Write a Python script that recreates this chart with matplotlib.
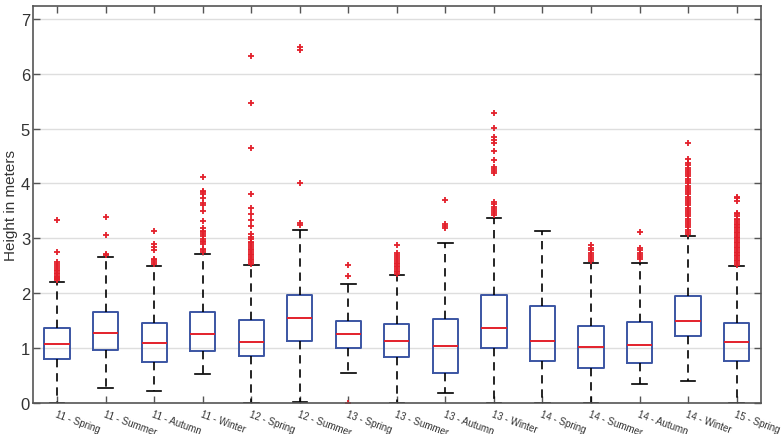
import numpy as np
import matplotlib
matplotlib.use('Agg')
import matplotlib.pyplot as plt

plt.rcParams['font.family'] = ['Liberation Sans', 'DejaVu Sans']

# seasons on the x axis
labels = ['11 - Spring', '11 - Summer', '11 - Autumn', '11 - Winter',
          '12 - Spring', '12 - Summer', '13 - Spring', '13 - Summer',
          '13 - Autumn', '13 - Winter', '14 - Spring', '14 - Summer',
          '14 - Autumn', '14 - Winter', '15 - Spring']

# box statistics (meters)
q1 = [0.81, 0.97, 0.74, 0.94, 0.86, 1.13, 1.00, 0.83, 0.55, 1.00, 0.76, 0.63, 0.72, 1.22, 0.77]
med = [1.08, 1.28, 1.10, 1.26, 1.12, 1.55, 1.25, 1.13, 1.04, 1.37, 1.13, 1.02, 1.05, 1.49, 1.11]
q3 = [1.37, 1.66, 1.45, 1.65, 1.52, 1.97, 1.50, 1.44, 1.53, 1.97, 1.77, 1.40, 1.48, 1.95, 1.46]
whislo = [0.00, 0.27, 0.21, 0.52, 0.00, 0.01, 0.55, 0.00, 0.18, 0.00, 0.00, 0.00, 0.35, 0.40, 0.00]
whishi = [2.20, 2.66, 2.49, 2.71, 2.51, 3.16, 2.17, 2.33, 2.91, 3.38, 3.14, 2.55, 2.56, 3.05, 2.49]

# outliers
fliers = [
    [2.24, 2.26, 2.28, 2.30, 2.32, 2.35, 2.37, 2.40, 2.43, 2.46, 2.50, 2.53, 2.57, 2.76, 3.33],
    [2.70, 2.72, 3.07, 3.39],
    [2.54, 2.57, 2.60, 2.63, 2.79, 2.84, 2.90, 3.13],
    [2.76, 2.78, 2.81, 2.90, 2.93, 2.96, 2.99, 3.05, 3.08, 3.11, 3.14, 3.18, 3.32,
     3.50, 3.61, 3.65, 3.74, 3.81, 3.84, 3.87, 4.12],
    [2.54, 2.57, 2.60, 2.63, 2.66, 2.69, 2.72, 2.75, 2.78, 2.81, 2.84, 2.88, 2.91, 2.94,
     2.99, 3.03, 3.08, 3.22, 3.33, 3.44, 3.55, 3.80, 4.65, 5.46, 6.33],
    [3.25, 3.28, 4.01, 6.44, 6.48],
    [0.00, 2.31, 2.51],
    [2.35, 2.38, 2.41, 2.44, 2.47, 2.50, 2.53, 2.56, 2.59, 2.62, 2.66, 2.70, 2.74, 2.87],
    [3.18, 3.22, 3.27, 3.70],
    [3.42, 3.46, 3.50, 3.54, 3.58, 3.62, 3.67, 4.20, 4.23, 4.26, 4.30, 4.42, 4.59,
     4.74, 4.79, 4.84, 5.02, 5.28],
    [],
    [2.58, 2.62, 2.66, 2.70, 2.74, 2.78, 2.82, 2.87],
    [2.63, 2.66, 2.70, 2.74, 2.78, 2.82, 3.12],
    [3.08, 3.12, 3.16, 3.20, 3.24, 3.28, 3.32, 3.36, 3.40, 3.44, 3.48, 3.52, 3.56, 3.60,
     3.64, 3.68, 3.72, 3.76, 3.80, 3.84, 3.88, 3.92, 3.96, 4.00, 4.04, 4.09, 4.13, 4.17,
     4.21, 4.25, 4.29, 4.33, 4.37, 4.45, 4.73],
    [2.52, 2.55, 2.58, 2.61, 2.64, 2.67, 2.70, 2.73, 2.76, 2.79, 2.82, 2.85, 2.88, 2.91,
     2.94, 2.97, 3.00, 3.03, 3.06, 3.09, 3.12, 3.15, 3.18, 3.21, 3.24, 3.27, 3.30, 3.33,
     3.36, 3.40, 3.44, 3.47, 3.69, 3.73, 3.76],
]

BLUE = '#3b55a3'
RED = '#e3202b'

stats = []
for i in range(len(labels)):
    stats.append(dict(q1=q1[i], med=med[i], q3=q3[i], whislo=whislo[i],
                      whishi=whishi[i], fliers=fliers[i], label=labels[i]))

fig = plt.figure(figsize=(7.82, 4.35), dpi=100)
ax = fig.add_axes([0.042, 0.0713, 0.931, 0.9133])

positions = np.arange(1, len(labels) + 1)
ax.bxp(stats, positions=positions, widths=0.52, showfliers=True,
       boxprops=dict(color=BLUE, linewidth=1.4),
       medianprops=dict(color=RED, linewidth=1.4),
       whiskerprops=dict(color='black', linewidth=1.2, linestyle=(0, (5, 3.5))),
       capprops=dict(color='black', linewidth=1.2),
       flierprops=dict(marker='+', markeredgecolor=RED, markersize=4.5,
                       markeredgewidth=1.3, linestyle='none'),
       capwidths=0.3)

ax.set_xlim(0.5, 15.5)
ax.set_ylim(0, 7.24)
ax.set_yticks(range(0, 8))
ax.yaxis.grid(True, color='#dedede', linewidth=1)
ax.set_axisbelow(True)

for s in ax.spines.values():
    s.set_color('#555555')
    s.set_linewidth(1.2)

ax.tick_params(axis='both', direction='in', top=True, right=True, length=5,
               width=1, color='#555555')
ax.tick_params(axis='y', labelsize=12, labelcolor='#333333', pad=2)
ax.set_xticks(positions)
ax.set_xticklabels(labels, rotation=-20, ha='left', va='top',
                   rotation_mode='anchor', fontsize=7, color='#333333')
ax.tick_params(axis='x', pad=4)
ax.set_ylabel('Height in meters', fontsize=11, color='#333333', labelpad=2)

fig.savefig('out.png', dpi=100)
